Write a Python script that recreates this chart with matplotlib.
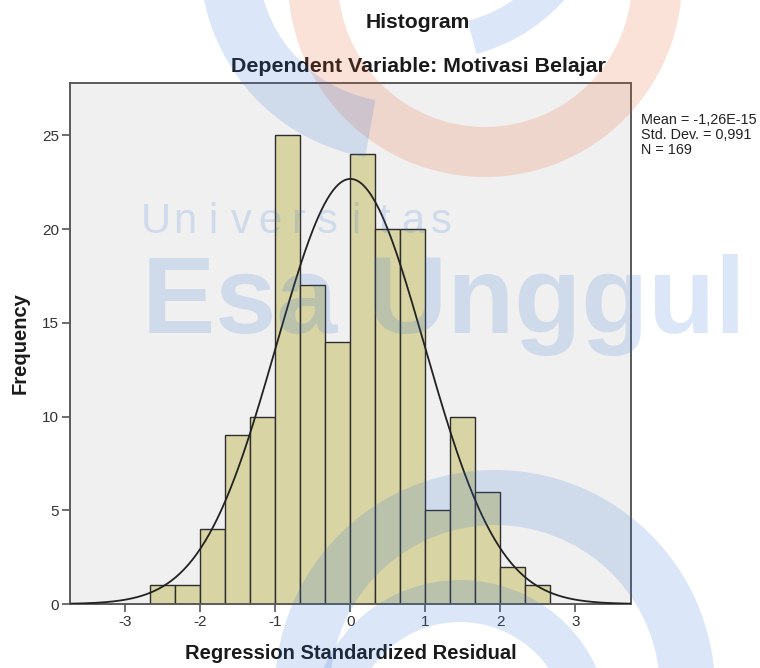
import numpy as np
import matplotlib
matplotlib.use("Agg")
import matplotlib.pyplot as plt
from matplotlib.patches import Wedge

plt.rcParams['font.family'] = ['Liberation Sans', 'DejaVu Sans']
plt.rcParams['axes.unicode_minus'] = False

# histogram of regression standardized residuals (bins of 1/3)
bin_edges = [-2.667, -2.333, -2.0, -1.667, -1.333, -1.0, -0.667, -0.333, 0.0,
             0.333, 0.667, 1.0, 1.333, 1.667, 2.0, 2.333, 2.667]
counts = [1, 1, 4, 9, 10, 25, 17, 14, 24, 20, 20, 5, 10, 6, 2, 1]

mean = -1.26e-15
std_dev = 0.991
n_obs = 169

x_ticks = [-3, -2, -1, 0, 1, 2, 3]
y_ticks = [0, 5, 10, 15, 20, 25]

stats_lines = ["Mean = -1,26E-15", "Std. Dev. = 0,991", "N = 169"]

fig = plt.figure(figsize=(7.6, 6.68), dpi=100)
ax = fig.add_axes([0.0921, 0.0958, 0.738, 0.780])
ax.set_facecolor('#f0f0f0')

edges = np.array(bin_edges)
widths = np.diff(edges)
ax.bar(edges[:-1], counts, width=widths, align='edge', color='#d8d4a4',
       edgecolor='#2e2e2e', linewidth=1.0, zorder=2)

# fitted normal curve
xs = np.linspace(-3.74, 3.74, 400)
bw = widths.mean()
ys = n_obs * bw / (std_dev * np.sqrt(2 * np.pi)) * np.exp(-0.5 * ((xs - mean) / std_dev) ** 2)
ax.plot(xs, ys, color='#222222', linewidth=1.3, zorder=3)

ax.set_xlim(-3.74, 3.74)
ax.set_ylim(0, 27.8)
ax.set_xticks(x_ticks)
ax.set_yticks(y_ticks)
ax.tick_params(direction='out', length=6, width=1.2, color='#555555',
               labelsize=11, labelcolor='#333333', pad=2)
for side in ax.spines.values():
    side.set_color('#5a5a5a')
    side.set_linewidth(1.4)

ax.set_xlabel("Regression Standardized Residual", fontsize=14.5,
              fontweight='bold', color='#1a1a1a', labelpad=11)
ax.set_ylabel("Frequency", fontsize=14.5, fontweight='bold',
              color='#1a1a1a', labelpad=9)

fig.text(418 / 760, 1 - 22 / 668, "Histogram", ha='center', va='center',
         fontsize=15.2, fontweight='bold', color='#1a1a1a')
fig.text(418 / 760, 1 - 66 / 668, "Dependent Variable: Motivasi Belajar",
         ha='center', va='center', fontsize=15.4, fontweight='bold', color='#1a1a1a')

for i, line in enumerate(stats_lines):
    fig.text(641 / 760, 1 - (120 + 15 * i) / 668, line, ha='left', va='center',
             fontsize=10.4, color='#222222')

# watermark overlay (pixel coordinates)
wm = fig.add_axes([0, 0, 1, 1], zorder=10)
wm.set_xlim(0, 760)
wm.set_ylim(668, 0)
wm.axis('off')
wm.patch.set_alpha(0)

blue = '#2f6fd6'
orange = '#e8602c'
wm.add_patch(Wedge((485, -20), 197, 0, 180, width=50, color=orange, alpha=0.18, lw=0))
wm.add_patch(Wedge((400, -40), 200, 100, 180, width=58, color=blue, alpha=0.17, lw=0))
wm.add_patch(Wedge((430, -120), 180, 25, 75, width=34, color=blue, alpha=0.17, lw=0))
wm.add_patch(Wedge((495, 690), 220, 185, 355, width=55, color=blue, alpha=0.17, lw=0))
wm.add_patch(Wedge((460, 730), 150, 190, 350, width=42, color=blue, alpha=0.17, lw=0))

for i, ch in enumerate("Universitas"):
    wm.text(156 + 28.5 * i, 233, ch, ha='center', va='baseline', fontsize=30,
            color=blue, alpha=0.17)
wm.text(142, 333, "Esa Unggul", ha='left', va='baseline', fontsize=79,
        fontweight='bold', color=blue, alpha=0.17)

fig.savefig("out.png", dpi=100)
